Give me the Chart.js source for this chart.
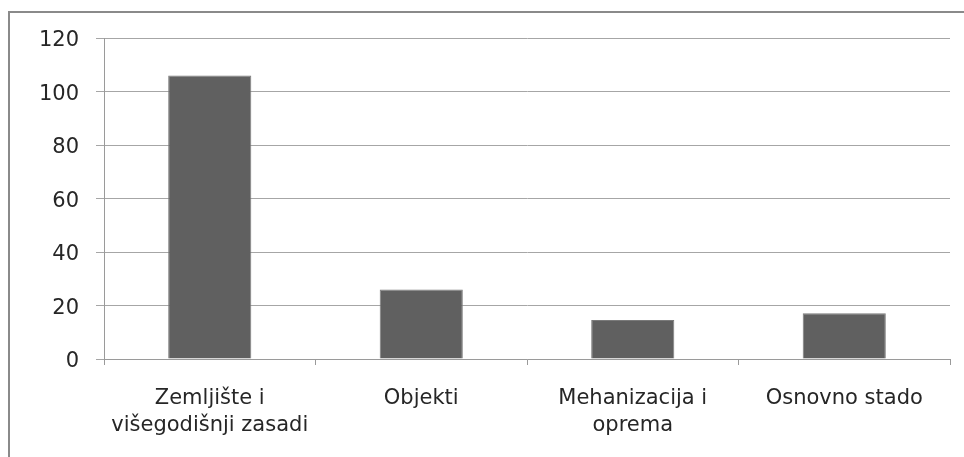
<!DOCTYPE html>
<html>
<head>
<meta charset="utf-8">
<script src="https://cdn.jsdelivr.net/npm/chart.js@4.4.1/dist/chart.umd.min.js"></script>
<style>
  html, body { margin: 0; padding: 0; background: #fff; }
  #wrap { position: relative; width: 964px; height: 457px; }
  #frame { position: absolute; left: 8px; top: 11px; right: -2px; bottom: -2px; border-left: 2px solid #8a8a8a; border-top: 2px solid #8a8a8a; pointer-events: none; }
  canvas { position: absolute; left: 0; top: 0; }
</style>
</head>
<body>
<div id="wrap">
  <canvas id="c" width="964" height="457"></canvas>
  <div id="frame"></div>
</div>
<script>
const categories = [
  ["Zemljište i", "višegodišnji zasadi"],
  "Objekti",
  ["Mehanizacija i", "oprema"],
  "Osnovno stado"
];
const values = [106, 26, 14.6, 17.1];
const yTicks = [0, 20, 40, 60, 80, 100, 120];

const FONT = { family: "'DejaVu Sans', sans-serif", size: 21, lineHeight: 1.3 };

new Chart(document.getElementById('c'), {
  type: 'bar',
  data: {
    labels: categories,
    datasets: [{
      data: values,
      backgroundColor: '#606060',
      borderColor: '#7a7a7a',
      borderWidth: 1,
      categoryPercentage: 1,
      barPercentage: 0.393
    }]
  },
  options: {
    responsive: false,
    animation: false,
    devicePixelRatio: 1,
    layout: { padding: { left: 0, right: 14, top: 38, bottom: 0 } },
    plugins: { legend: { display: false }, tooltip: { enabled: false } },
    scales: {
      x: {
        grid: { display: true, drawOnChartArea: false, drawTicks: true, tickLength: 6, color: '#9a9a9a', offset: true },
        border: { display: true, color: '#9a9a9a' },
        ticks: { color: '#262626', font: FONT, padding: 20, maxRotation: 0, autoSkip: false },
        afterFit: s => { s.height = 98; }
      },
      y: {
        min: 0, max: 120,
        afterBuildTicks: s => { s.ticks = yTicks.map(v => ({ value: v })); },
        grid: { color: '#a6a6a6', tickLength: 8, drawTicks: true },
        border: { display: true, color: '#9a9a9a' },
        ticks: { color: '#262626', font: FONT, padding: 17, labelOffset: 3 },
        afterFit: s => { s.width = 104; }
      }
    }
  }
});
</script>
</body>
</html>
